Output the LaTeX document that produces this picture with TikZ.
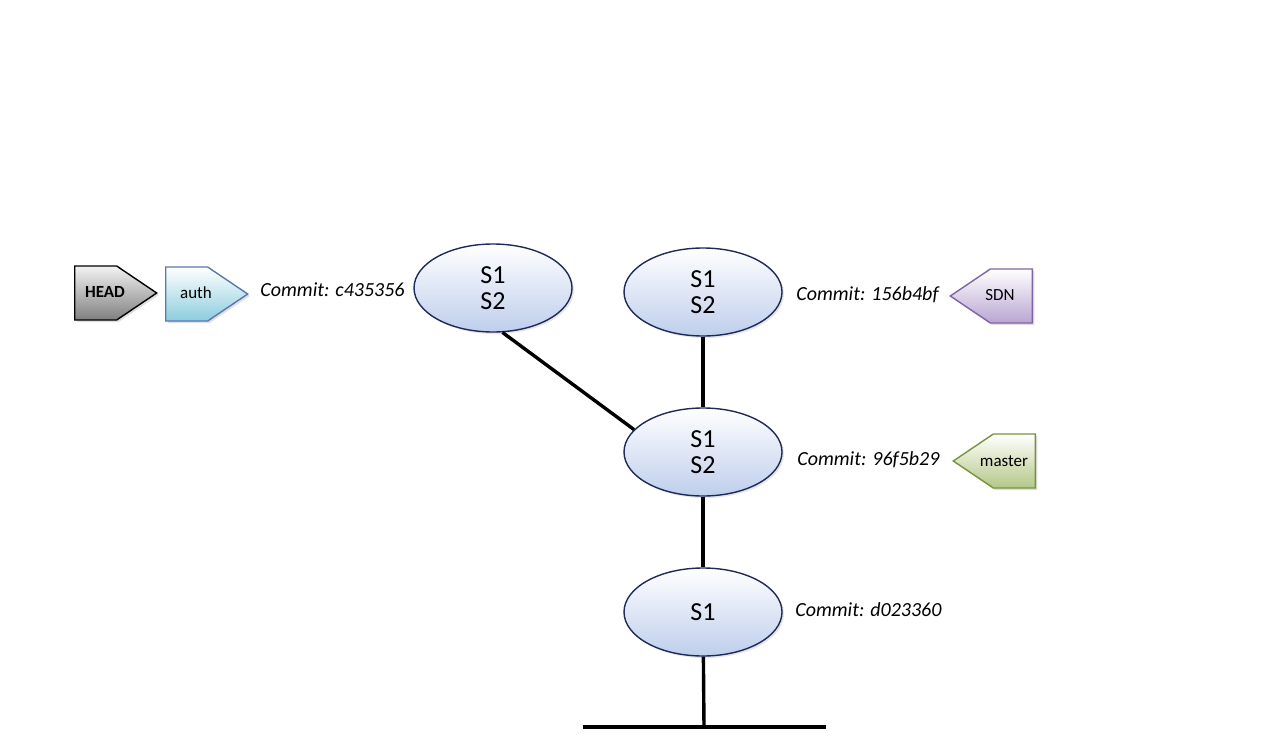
\documentclass[tikz,border=0pt]{standalone}
\usepackage{fontspec}
\setmainfont{Carlito}
\usetikzlibrary{shapes.geometric,shapes.symbols,shadows,positioning}
\definecolor{cblue}{RGB}{190,206,236}
\definecolor{cnavy}{RGB}{31,42,90}
\definecolor{headbot}{RGB}{128,128,128}
\definecolor{authbot}{RGB}{140,205,222}
\definecolor{authline}{RGB}{90,120,175}
\definecolor{sdnbot}{RGB}{185,165,210}
\definecolor{sdnline}{RGB}{128,100,162}
\definecolor{masterbot}{RGB}{180,200,135}
\definecolor{masterline}{RGB}{119,147,60}

\begin{document}
\begin{tikzpicture}[x=0.5pt, y=-0.5pt, commit/.style={ellipse, draw=cnavy, line width=0.7pt, top color=white, bottom color=cblue, minimum width=79pt, minimum height=44pt, inner sep=0pt, align=center, font=\fontsize{13}{13}\selectfont, drop shadow={opacity=0.2, shadow xshift=1pt, shadow yshift=-1pt}}, branch/.style={signal, signal pointer angle=68, minimum height=27pt, minimum width=41pt, inner sep=1pt, line width=0.7pt, drop shadow={opacity=0.25, shadow xshift=1pt, shadow yshift=-1pt}}, tagtxt/.style={inner sep=0pt, font=\fontsize{8.5}{10}\selectfont}, lbl/.style={inner sep=0pt, font=\itshape\fontsize{10}{12}\selectfont}, edge/.style={line width=1.7pt}]
\useasboundingbox (0,0) rectangle (1280,738);
\node[commit] (cauth) at (493,288) {S1\\S2}; \node[commit] (csdn) at (703,292) {S1\\S2}; \node[commit] (cmid) at (703,452) {S1\\S2}; \node[commit] (croot) at (703,612) {S1};
\coordinate (root) at (704,727); \coordinate (rootl) at (583,727); \coordinate (rootr) at (826,727);
\draw[edge] (cauth.-78) -- (cmid.162); \draw[edge] (csdn) -- (cmid); \draw[edge] (cmid) -- (croot); \draw[edge] (croot) -- (root); \draw[edge] (rootl) -- (rootr);
\node[lbl, anchor=east] (lauth) at (405,290) {Commit: c435356}; \node[lbl, anchor=west] (lsdn) at (796,295) {Commit: 156b4bf}; \node[lbl, anchor=west] (lmid) at (797,460) {Commit: 96f5b29}; \node[lbl, anchor=west] (lroot) at (795,610) {Commit: d023360};
\node[branch, signal to=east, draw=black, top color=gray!10, bottom color=headbot, anchor=west] (headtag) at (74,293) {}; \node[branch, signal to=east, draw=authline, top color=white, bottom color=authbot, anchor=west] (authtag) at (165,294) {};
\node[branch, signal to=west, draw=sdnline, top color=white, bottom color=sdnbot, anchor=east] (sdntag) at (1033,296) {}; \node[branch, signal to=west, draw=masterline, top color=white, bottom color=masterbot, anchor=east] (mastertag) at (1036,461) {};
\node[tagtxt, font=\bfseries\fontsize{8.5}{10}\selectfont] (headlbl) at (105,292) {HEAD}; \node[tagtxt] (authlbl) at (196,293) {auth}; \node[tagtxt] (sdnlbl) at (1000,295) {SDN}; \node[tagtxt] (masterlbl) at (1004,461) {master};
\end{tikzpicture}
\end{document}
